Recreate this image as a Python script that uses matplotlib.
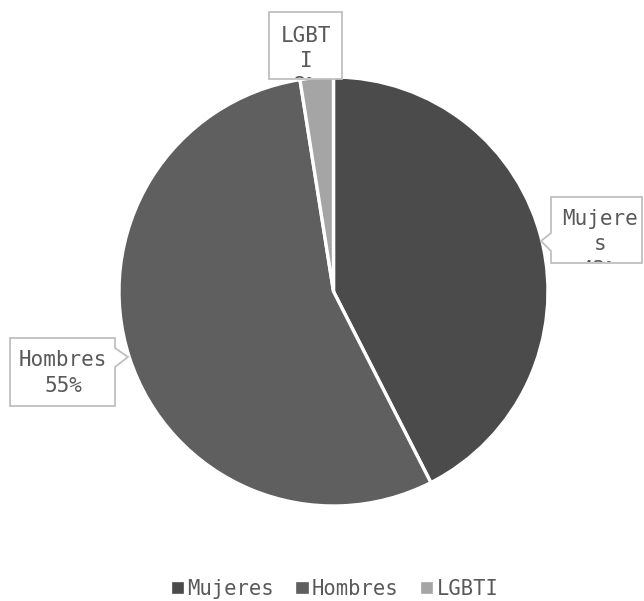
import matplotlib
matplotlib.use("Agg")
import matplotlib.pyplot as plt
from matplotlib.patches import Polygon
from matplotlib.transforms import Bbox, TransformedBbox

categories = ["Mujeres", "Hombres", "LGBTI"]
values = [42.5, 55.0, 2.5]
label_texts = ["Mujere\ns\n43%", "Hombres\n55%", "LGBT\nI\n2%"]
colors = ["#4B4B4B", "#5F5F5F", "#A5A5A5"]

W, H = 644, 601
TXT = "#595959"
LBL_FONT = dict(family="DejaVu Sans Mono", size=15)
LEG_FONT = dict(family="DejaVu Sans Mono", size=14.8)

fig = plt.figure(figsize=(6.44, 6.01), dpi=100)
ax = fig.add_axes([0, 0, 1, 1])

wedges, _ = ax.pie(values, colors=colors, startangle=90, counterclock=False,
                   center=(333.5, H - 291.5), radius=214.5,
                   wedgeprops=dict(edgecolor="white", linewidth=2.4))
ax.set_xlim(0, W)
ax.set_ylim(0, H)
ax.set_aspect("equal")
ax.axis("off")


def callout(poly_px, box_px, text, x_c, last_baseline, linespacing):
    pts = [(x, H - y) for x, y in poly_px]
    ax.add_patch(Polygon(pts, closed=True, facecolor="white",
                         edgecolor="#BFBFBF", linewidth=1.3, zorder=5))
    x0, y0, x1, y1 = box_px
    clipbox = TransformedBbox(Bbox.from_extents(x0, H - y1, x1, H - y0),
                              ax.transData)
    t = ax.text(x_c, H - last_baseline, text, ha="center", va="baseline",
                multialignment="center", color=TXT, linespacing=linespacing,
                zorder=6, clip_on=True, **LBL_FONT)
    t.set_clip_box(clipbox)


# Mujeres
callout([(551, 197), (642, 197), (642, 263), (551, 263), (551, 251),
         (541, 241), (551, 233)],
        (552, 198, 641, 262), label_texts[0], 600, 275.5, 1.32)
# Hombres
callout([(10, 338), (115, 338), (115, 348), (128, 357), (115, 367),
         (115, 406), (10, 406)],
        (11, 339, 114, 405), label_texts[1], 63, 392.5, 1.40)
# LGBTI
callout([(269, 12), (342, 12), (342, 79), (269, 79)],
        (270, 13, 341, 78), label_texts[2], 306, 92.5, 1.34)

fig.legend(wedges, categories, loc="center",
           bbox_to_anchor=(334 / W, 1 - 589 / H), ncol=3, frameon=False,
           handlelength=0.75, handleheight=0.75, handletextpad=0.1,
           columnspacing=1.0, labelcolor=TXT, prop=LEG_FONT)

fig.savefig("out.png", dpi=100)
